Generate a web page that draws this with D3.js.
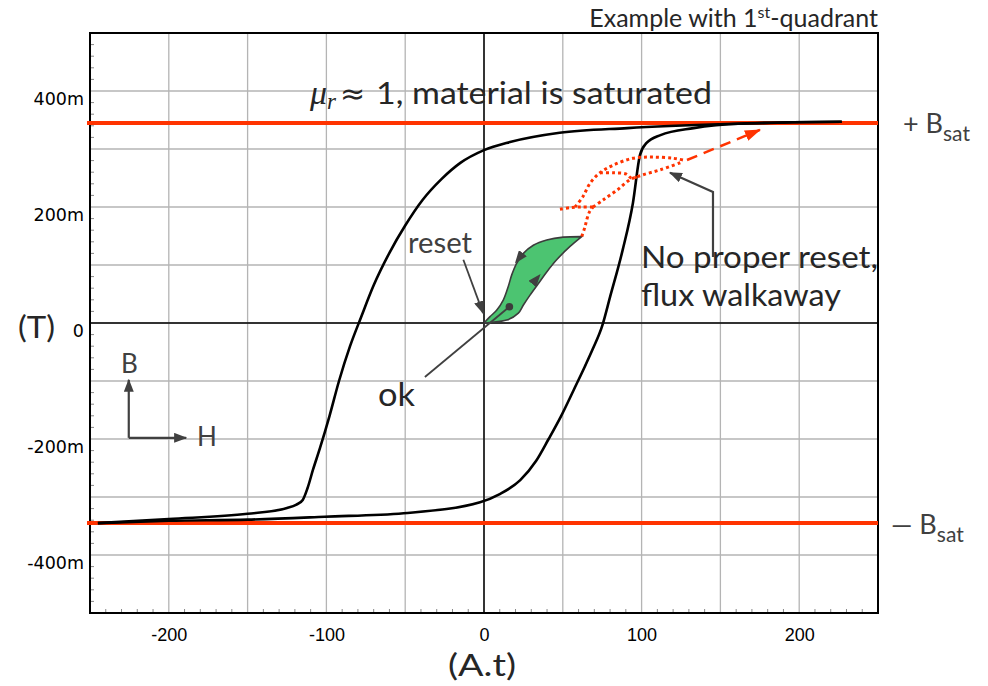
<!DOCTYPE html>
<html>
<head>
<meta charset="utf-8">
<script src="https://cdn.jsdelivr.net/npm/d3@7"></script>
<style>
  body { margin: 0; background: #fff; }
  svg { display: block; }
  text { font-family: Lato, "Open Sans", sans-serif; }
</style>
</head>
<body>
<div id="chart"></div>
<script>
// B-H hysteresis loop, H in A.t, B in T
var descending = [
  [-245, -0.345], [-200, -0.338], [-150, -0.329], [-125, -0.319], [-119, -0.313], [-115, -0.305],
  [-112, -0.285], [-108.5, -0.253], [-104, -0.215], [-98, -0.16], [-92, -0.1], [-85, -0.04],
  [-78, 0.01], [-70, 0.065], [-60, 0.121], [-50, 0.168], [-39, 0.212], [-27, 0.248], [-15, 0.276],
  [0, 0.298], [16.5, 0.312], [48, 0.328], [91, 0.336], [154, 0.343], [196, 0.346], [227, 0.347]
];
var ascending = [
  [-245, -0.345], [-200, -0.341], [-150, -0.339], [-101, -0.334], [-51, -0.328], [-2.5, -0.309],
  [10, -0.295], [23, -0.271], [33, -0.238], [41, -0.2], [49, -0.16], [57, -0.115], [64, -0.075],
  [69, -0.045], [75, -0.005], [80, 0.045], [88, 0.126], [94.5, 0.207], [99, 0.29], [103, 0.31],
  [112, 0.324], [133, 0.336], [164, 0.344], [196, 0.346], [227, 0.347]
];
var bsat = 0.345;

// small loop that resets properly (green)
var greenUp = [[0, 0], [3.8, 0.001], [14.4, 0.005], [21.8, 0.017], [25, 0.031], [29.2, 0.048],
  [34.5, 0.068], [39.8, 0.088], [46.1, 0.109], [54.6, 0.132], [62, 0.149]];
var greenDown = [[62, 0.149], [50.3, 0.148], [39.8, 0.143], [31.3, 0.134], [25, 0.12], [20.7, 0.103],
  [17.6, 0.083], [15.4, 0.063], [12.3, 0.04], [8, 0.022], [3.8, 0.011], [0, 0]];
var greenArrows = [[[24, 0.118], [20, 0.104]], [[30.3, 0.066], [35.5, 0.083]]];
var okDot = [16.1, 0.028];

// flux walkaway (red dotted)
var walkUp = [[62, 0.149], [64, 0.165], [65.2, 0.178], [67, 0.192], [69.2, 0.2]];
var walkLeft = [[48.2, 0.196], [55, 0.199], [62, 0.2], [69.2, 0.2]];
var walkUpper = [[57.7, 0.2], [62.8, 0.218], [67.3, 0.241], [73.6, 0.259], [81.9, 0.272],
  [94.5, 0.284], [107.2, 0.286], [120, 0.284], [126.3, 0.281]];
var walkLower = [[69.2, 0.2], [75.5, 0.212], [84.4, 0.229], [92.6, 0.247], [100.3, 0.255],
  [111.7, 0.264], [126.3, 0.278]];
var walkMid = [[73.6, 0.259], [82, 0.259], [90, 0.257], [93.5, 0.25], [97, 0.252]];
var walkaway = [[128.8, 0.281], [175.1, 0.333]];

// annotation pointers
var okLine = [[16.1, 0.028], [-37.5, -0.093]];
var resetLine = [[-13.1, 0.109], [-0.6, 0.017]];
var noResetLine = [[145.3, 0.114], [145.3, 0.226], [118, 0.259]];
var bhOrigin = [-225.4, -0.198], bhB = [-225.4, -0.098], bhH = [-189, -0.198];

var xTicks = [-200, -100, 0, 100, 200];
var yTicks = [-0.4, -0.2, 0, 0.2, 0.4];

var width = 988, height = 686;
var x = d3.scaleLinear().domain([-250, 250]).range([90, 878]);
var y = d3.scaleLinear().domain([-0.5, 0.5]).range([613, 33]);

var svg = d3.select("#chart").append("svg")
  .attr("width", width)
  .attr("height", height);

var defs = svg.append("defs");
function marker(id, color, w, h) {
  defs.append("marker")
    .attr("id", id)
    .attr("markerUnits", "userSpaceOnUse")
    .attr("viewBox", "0 0 " + w + " " + h)
    .attr("markerWidth", w)
    .attr("markerHeight", h)
    .attr("refX", w - 1)
    .attr("refY", h / 2)
    .attr("orient", "auto")
   .append("path")
    .attr("d", "M0,0L" + w + "," + (h / 2) + "L0," + h + "Z")
    .attr("fill", color);
}
marker("redArrow", "#ff3300", 16, 11);
marker("grayArrow", "#404040", 13, 10);

// grid
var grid = svg.append("g");
grid.selectAll(".gx").data(d3.range(-200, 250, 50)).enter().append("line")
  .attr("x1", x).attr("x2", x).attr("y1", y(0.5)).attr("y2", y(-0.5))
  .style("stroke", "#b4b4b4").style("stroke-width", 1.3);
grid.selectAll(".gy").data(d3.range(-4, 5).map(function(d) { return d / 10; })).enter().append("line")
  .attr("x1", x(-250)).attr("x2", x(250)).attr("y1", y).attr("y2", y)
  .style("stroke", "#b4b4b4").style("stroke-width", 1.3);

// minor ticks
grid.selectAll(".mx").data(d3.range(-240, 250, 10).filter(function(d) { return d % 50 != 0; })).enter().append("line")
  .attr("x1", x).attr("x2", x).attr("y1", y(-0.5)).attr("y2", y(-0.5) - 4)
  .style("stroke", "#888").style("stroke-width", 1);
grid.selectAll(".my").data(d3.range(-24, 25).filter(function(d) { return d % 5 != 0; })).enter().append("line")
  .attr("x1", x(-250)).attr("x2", x(-250) + 4).attr("y1", function(d) { return y(d / 50); }).attr("y2", function(d) { return y(d / 50); })
  .style("stroke", "#888").style("stroke-width", 1);

// zero axes
svg.append("line").attr("x1", x(0)).attr("x2", x(0)).attr("y1", y(0.5)).attr("y2", y(-0.5))
  .style("stroke", "#000").style("stroke-width", 1.5);
svg.append("line").attr("x1", x(-250)).attr("x2", x(250)).attr("y1", y(0)).attr("y2", y(0))
  .style("stroke", "#000").style("stroke-width", 1.5);

// frame
svg.append("rect")
  .attr("x", x(-250)).attr("y", y(0.5))
  .attr("width", x(250) - x(-250)).attr("height", y(-0.5) - y(0.5))
  .style("fill", "none").style("stroke", "#000").style("stroke-width", 2);

// tick labels
var xAxis = svg.append("g")
  .attr("transform", "translate(0," + y(-0.5) + ")")
  .call(d3.axisBottom(x).tickValues(xTicks).tickSize(0).tickFormat(function(d) { return String(d); }));
xAxis.select(".domain").remove();
xAxis.selectAll("text").attr("y", 28).attr("dy", 0)
  .style("font-family", "'Liberation Sans', Arial, sans-serif").style("font-size", "18px").style("fill", "#000");

var yAxis = svg.append("g")
  .attr("transform", "translate(" + x(-250) + ",0)")
  .call(d3.axisLeft(y).tickValues(yTicks).tickSize(0)
    .tickFormat(function(d) { return d == 0 ? "0" : Math.round(d * 1000) + "m"; }));
yAxis.select(".domain").remove();
yAxis.selectAll("text").attr("x", -6).attr("dy", 13)
  .style("font-family", "'DejaVu Sans', sans-serif").style("font-size", "17.5px").style("fill", "#000");

// saturation lines
svg.selectAll(".sat").data([bsat, -bsat]).enter().append("line")
  .attr("x1", x(-250) - 3).attr("x2", x(250)).attr("y1", y).attr("y2", y)
  .style("stroke", "#ff3300").style("stroke-width", 4);

var line = d3.line().x(function(d) { return x(d[0]); }).y(function(d) { return y(d[1]); });
var smooth = d3.line().curve(d3.curveMonotoneX).x(function(d) { return x(d[0]); }).y(function(d) { return y(d[1]); });
var cr = d3.line().curve(d3.curveCatmullRom.alpha(0.5)).x(function(d) { return x(d[0]); }).y(function(d) { return y(d[1]); });

// big loop
[descending, ascending].forEach(function(branch) {
  svg.append("path")
    .attr("d", smooth(branch))
    .style("fill", "none").style("stroke", "#000").style("stroke-width", 2.6);
});

// green loop
svg.append("path")
  .attr("d", cr(greenUp) + cr(greenDown).replace(/^M/, "L") + "Z")
  .style("fill", "#4cc471").style("stroke", "#3c3c3c").style("stroke-width", 1.6);
greenArrows.forEach(function(a) {
  svg.append("path").attr("d", line(a)).style("stroke", "none").attr("marker-end", "url(#grayArrow)");
});

// red walkaway
[walkUp, walkLeft, walkUpper, walkLower, walkMid].forEach(function(p) {
  svg.append("path")
    .attr("d", cr(p))
    .style("fill", "none").style("stroke", "#ff3300").style("stroke-width", 3)
    .style("stroke-dasharray", "3,3");
});
svg.append("path")
  .attr("d", line(walkaway))
  .style("fill", "none").style("stroke", "#ff3300").style("stroke-width", 2.5)
  .style("stroke-dasharray", "11,7")
  .attr("marker-end", "url(#redArrow)");

// pointers
svg.append("path").attr("d", line(okLine)).style("stroke", "#404040").style("stroke-width", 1.8).style("fill", "none");
svg.append("circle").attr("cx", x(okDot[0])).attr("cy", y(okDot[1])).attr("r", 3.8).style("fill", "#3c3c3c");
svg.append("path").attr("d", line(resetLine)).style("stroke", "#404040").style("stroke-width", 1.8)
  .style("fill", "none").attr("marker-end", "url(#grayArrow)");
svg.append("path").attr("d", line(noResetLine)).style("stroke", "#404040").style("stroke-width", 2.2)
  .style("fill", "none").attr("marker-end", "url(#grayArrow)");
svg.append("path").attr("d", line([bhOrigin, bhB])).style("stroke", "#404040").style("stroke-width", 2.2)
  .attr("marker-end", "url(#grayArrow)");
svg.append("path").attr("d", line([bhOrigin, bhH])).style("stroke", "#404040").style("stroke-width", 2.2)
  .attr("marker-end", "url(#grayArrow)");

// texts
function label(px, py, str, size, color, fitW) {
  var t = svg.append("text").attr("x", px).attr("y", py)
    .style("font-size", size + "px").style("fill", color || "#404040").text(str);
  if (fitW) t.attr("textLength", fitW).attr("lengthAdjust", "spacingAndGlyphs");
  return t;
}

var ex = svg.append("text").attr("x", 878).attr("y", 27).attr("text-anchor", "end")
  .style("font-size", "25px").style("fill", "#262626");
ex.append("tspan").text("Example with 1");
ex.append("tspan").attr("dy", -9).style("font-size", "16px").text("st");
ex.append("tspan").attr("dy", 9).text("-quadrant");

var mu = svg.append("text").attr("x", 310).attr("y", 104).style("font-size", "31px").style("fill", "#262626");
mu.append("tspan").style("font-family", "'Liberation Serif', serif").style("font-style", "italic").style("font-size", "34px").text("\u03bc");
mu.append("tspan").attr("dy", 5).style("font-family", "'Liberation Serif', serif").style("font-style", "italic").style("font-size", "23px").text("r");
mu.append("tspan").attr("dy", -5).attr("x", 340).style("font-family", "'DejaVu Sans', sans-serif").style("font-size", "30px").text("\u2248");
mu.append("tspan").attr("x", 376).attr("textLength", 336).attr("lengthAdjust", "spacingAndGlyphs")
  .text("1, material is saturated");

label(408, 253, "reset", 28, "#404040", 64);
label(378, 406, "ok", 33, "#262626", 37);
label(641, 268, "No proper reset,", 31, "#262626", 237);
label(641, 306, "flux walkaway", 31, "#262626", 200);
label(18, 338, "(T)", 30, "#262626", 37);
label(448, 676, "(A.t)", 31, "#262626", 68);
label(121, 373, "B", 26, "#404040");
label(197, 446, "H", 26, "#404040");

var bp = svg.append("text").attr("x", 903).attr("y", 133).style("font-size", "27px").style("fill", "#404040");
bp.append("tspan").text("+ B");
bp.append("tspan").attr("dy", 8).style("font-size", "21px").text("sat");
var bm = svg.append("text").attr("x", 891).attr("y", 534).style("font-size", "27px").style("fill", "#404040");
bm.append("tspan").text("\u2014 B");
bm.append("tspan").attr("dy", 8).style("font-size", "21px").text("sat");
</script>
</body>
</html>
